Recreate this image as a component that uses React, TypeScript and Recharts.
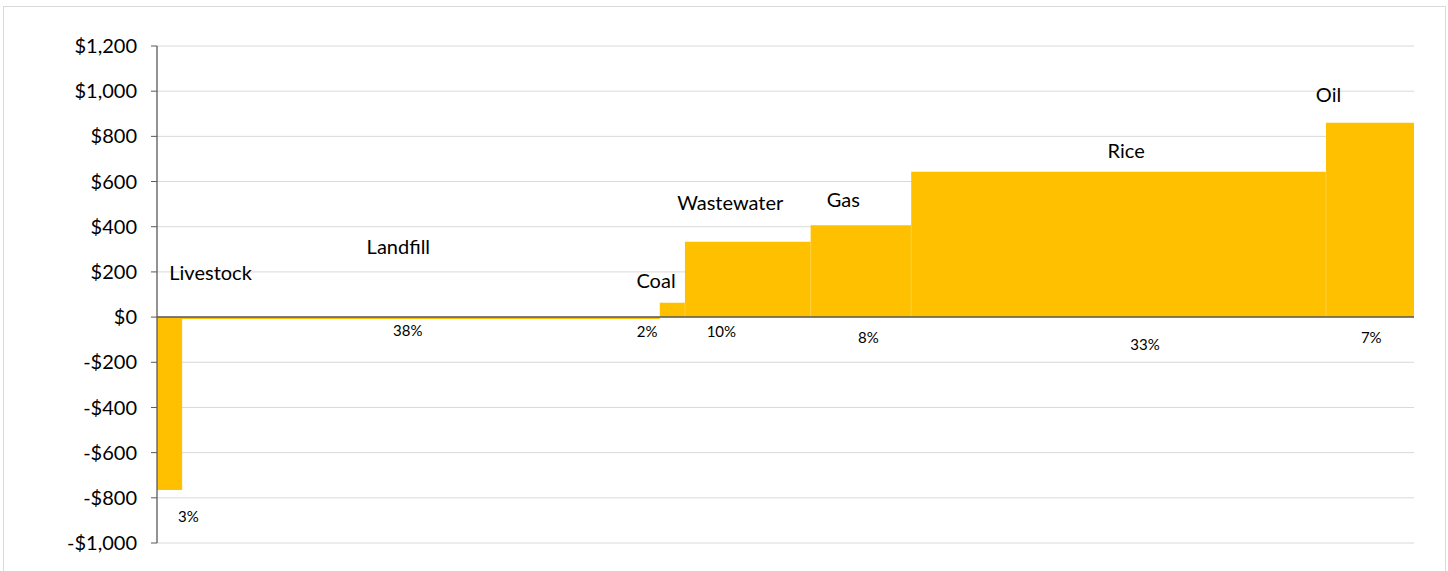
import React from 'react';
import { ComposedChart, Area, XAxis, YAxis, CartesianGrid, ReferenceLine, ReferenceDot } from 'recharts';

// abatement options, left to right
const sources = ['Livestock', 'Landfill', 'Coal', 'Wastewater', 'Gas', 'Rice', 'Oil'];
// width of each bar = share of potential (%)
const shares = [2, 38, 2, 10, 8, 33, 7];
// height of each bar = cost ($)
const costs = [-765, -8, 63, 333, 407, 643, 860];
// text printed under each bar
const shareLabels = ['3%', '38%', '2%', '10%', '8%', '33%', '7%'];
const yTicks = [-1000, -800, -600, -400, -200, 0, 200, 400, 600, 800, 1000, 1200];

// where the labels sit, in chart units (x = cumulative %, y = $)
const nameSpots = [
    [4.26, 196], [19.2, 311], [39.7, 161], [45.6, 505], [54.6, 518], [77.1, 735], [93.2, 983],
];
const pctSpots = [
    [2.5, -884], [19.95, -58], [39.0, -65], [44.9, -65], [56.6, -90], [78.6, -124], [96.6, -90],
];

const FONT = 'Lato, "Open Sans", sans-serif';
const BAR = '#FFC000';

const starts: number[] = [];
shares.reduce((acc, s) => { starts.push(acc); return acc + s; }, 0);
const total = shares.reduce((a, b) => a + b, 0);

// step points: each bar starts at its cumulative share
const stepData = [
    ...sources.map((name, i) => ({ name, x: starts[i], y: costs[i] })),
    { name: 'end', x: total, y: costs[costs.length - 1] },
];

const money = (v: number) => {
    const s = '$' + Math.abs(v).toLocaleString('en-US');
    return v < 0 ? '-' + s : s;
};

export default function App() {
    return (
        <div style={{ position: 'fixed', left: 0, top: 0, width: 1448, height: 571, overflow: 'hidden', background: '#fff' }}>
            <div style={{ position: 'absolute', left: 3, top: 6, width: 1441, height: 620, border: '1px solid #d9d9d9' }} />
            <div style={{ position: 'absolute', left: 0, top: 0 }}>
                <ComposedChart
                    width={1448}
                    height={571}
                    data={stepData}
                    margin={{ top: 46, right: 34, bottom: 28, left: 0 }}
                >
                    <CartesianGrid vertical={false} stroke="#d9d9d9" strokeWidth={1} />
                    <XAxis dataKey="x" type="number" domain={[0, total]} hide />
                    <YAxis
                        width={157}
                        domain={[-1000, 1200]}
                        ticks={yTicks}
                        tickFormatter={money}
                        tick={{ fill: '#000', fontSize: 20, fontFamily: FONT }}
                        tickSize={6}
                        tickMargin={14}
                        axisLine={{ stroke: '#595959', strokeWidth: 1.3 }}
                        tickLine={{ stroke: '#595959' }}
                        interval={0}
                    />
                    <Area
                        type="stepAfter"
                        dataKey="y"
                        baseValue={0}
                        stroke="none"
                        fill={BAR}
                        fillOpacity={1}
                        isAnimationActive={false}
                        activeDot={false}
                        dot={false}
                    />
                    {starts.slice(3).map((s, i) => (
                        <ReferenceLine
                            key={'sep' + i}
                            segment={[{ x: s, y: 0 }, { x: s, y: Math.min(costs[i + 2], costs[i + 3]) }]}
                            stroke="#ffffff"
                            strokeOpacity={0.25}
                        />
                    ))}
                    <ReferenceLine y={0} stroke="#595959" strokeWidth={1.5} />
                    {sources.map((name, i) => (
                        <ReferenceDot
                            key={'n' + name}
                            x={nameSpots[i][0]}
                            y={nameSpots[i][1]}
                            r={0}
                            fill="none"
                            stroke="none"
                            label={{ value: name, position: 'center', fill: '#000', fontSize: 20, fontFamily: FONT }}
                        />
                    ))}
                    {shareLabels.map((p, i) => (
                        <ReferenceDot
                            key={'p' + i}
                            x={pctSpots[i][0]}
                            y={pctSpots[i][1]}
                            r={0}
                            fill="none"
                            stroke="none"
                            label={{ value: p, position: 'center', fill: '#000', fontSize: 15, fontFamily: FONT }}
                        />
                    ))}
                </ComposedChart>
            </div>
        </div>
    );
}
